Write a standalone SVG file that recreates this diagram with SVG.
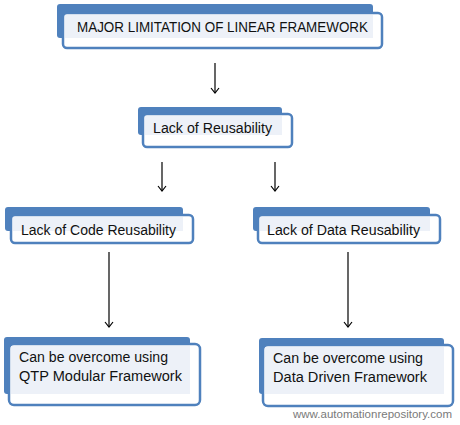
<svg xmlns="http://www.w3.org/2000/svg" width="460" height="425" viewBox="0 0 460 425">
<defs>
<style>
.back{fill:#4f81bd}
.front{fill:#ffffff;stroke:#4f81bd;stroke-width:2.5}
.light{fill:#edf1f8}
.t{font-family:"Liberation Sans",Arial,sans-serif;font-size:14px;fill:#111}
.c{stroke:#000;stroke-width:1.2;fill:none}
.wm{font-family:"Liberation Sans",Arial,sans-serif;font-size:10px;fill:#7a7a7a}
</style>
<marker id="ah" markerWidth="10" markerHeight="10" refX="8" refY="5" orient="auto" markerUnits="userSpaceOnUse" viewBox="0 0 10 10">
<path d="M3,1 L8,5 L3,9" fill="none" stroke="#000" stroke-width="1.2"/>
</marker>
</defs>
<rect width="460" height="425" fill="#ffffff"/>
<g id="connectors">
<line class="c" x1="215" y1="63" x2="215" y2="93" marker-end="url(#ah)"/>
<line class="c" x1="162" y1="162" x2="162" y2="191" marker-end="url(#ah)"/>
<line class="c" x1="275" y1="162" x2="275" y2="191" marker-end="url(#ah)"/>
<line class="c" x1="109" y1="252" x2="109" y2="327" marker-end="url(#ah)"/>
<line class="c" x1="348" y1="252" x2="348" y2="327" marker-end="url(#ah)"/>
</g>
<g id="node1">
<rect class="back" x="57" y="4" width="316" height="34" rx="3"/>
<rect class="front" x="63" y="13" width="319" height="35" rx="4"/>
<rect class="light" x="65" y="15" width="308" height="23"/>
<text class="t" x="77" y="32" font-size="13" textLength="291" lengthAdjust="spacingAndGlyphs">MAJOR LIMITATION OF LINEAR FRAMEWORK</text>
</g>
<g id="node2">
<rect class="back" x="138" y="107" width="144" height="28" rx="3"/>
<rect class="front" x="143" y="114" width="149" height="33" rx="4"/>
<rect class="light" x="145" y="116" width="137" height="19"/>
<text class="t" x="153" y="133" textLength="119" lengthAdjust="spacingAndGlyphs">Lack of Reusability</text>
</g>
<g id="node3">
<rect class="back" x="5" y="207" width="178" height="24" rx="3"/>
<rect class="front" x="11" y="215" width="182" height="28" rx="4"/>
<rect class="light" x="13" y="217" width="170" height="14"/>
<text class="t" x="21" y="235" textLength="155" lengthAdjust="spacingAndGlyphs">Lack of Code Reusability</text>
</g>
<g id="node4">
<rect class="back" x="253" y="207" width="177" height="24" rx="3"/>
<rect class="front" x="258" y="215" width="182" height="28" rx="4"/>
<rect class="light" x="260" y="217" width="170" height="14"/>
<text class="t" x="267" y="235" textLength="153" lengthAdjust="spacingAndGlyphs">Lack of Data Reusability</text>
</g>
<g id="node5">
<rect class="back" x="4" y="337" width="186" height="57" rx="3"/>
<rect class="front" x="9" y="344" width="191" height="61" rx="5"/>
<rect class="light" x="11" y="346" width="179" height="48"/>
<text class="t" x="19" y="362" textLength="149" lengthAdjust="spacingAndGlyphs">Can be overcome using</text>
<text class="t" x="19" y="381" textLength="163" lengthAdjust="spacingAndGlyphs">QTP Modular Framework</text>
</g>
<g id="node6">
<rect class="back" x="259" y="338" width="185" height="56" rx="3"/>
<rect class="front" x="263" y="345" width="190" height="61" rx="5"/>
<rect class="light" x="265" y="347" width="179" height="47"/>
<text class="t" x="273" y="363" textLength="150" lengthAdjust="spacingAndGlyphs">Can be overcome using</text>
<text class="t" x="273" y="382" textLength="154" lengthAdjust="spacingAndGlyphs">Data Driven Framework</text>
</g>
<text class="wm" x="293" y="418" textLength="159" lengthAdjust="spacingAndGlyphs">www.automationrepository.com</text>
</svg>
